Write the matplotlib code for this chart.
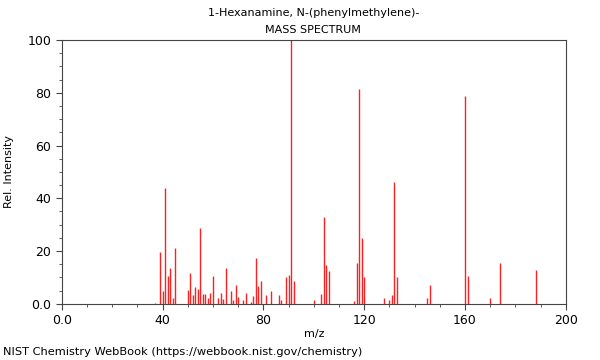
import matplotlib
matplotlib.use("Agg")
import matplotlib.pyplot as plt
from matplotlib.ticker import MultipleLocator, FixedLocator

# m/z and relative intensity
mz = [37, 39, 40, 41, 42, 43, 44, 45, 50, 51, 52, 53, 54, 55, 56, 57, 58, 59, 60,
      62, 63, 64, 65, 67, 68, 69, 70, 72, 73, 75, 76, 77, 78, 79, 81, 83, 86, 87,
      89, 90, 91, 92, 100, 103, 104, 105, 106, 116, 117, 118, 119, 120, 128, 130,
      131, 132, 133, 145, 146, 160, 161, 170, 174, 188]
intensity = [0.5, 19.8, 5.0, 44.0, 10.4, 13.4, 2.4, 21.0, 5.4, 11.7, 3.5, 6.2, 5.6,
             28.9, 3.8, 3.8, 2.3, 4.2, 10.7, 2.3, 4.2, 1.8, 13.4, 5.0, 1.6, 7.3, 2.5,
             1.3, 4.0, 0.8, 2.8, 17.3, 6.6, 8.8, 3.2, 5.0, 3.4, 1.3, 10.0, 11.1, 100.0,
             8.6, 1.3, 3.9, 32.8, 14.8, 12.6, 0.9, 15.4, 81.6, 25.1, 10.0, 2.3, 1.6,
             3.3, 46.3, 10.1, 2.1, 7.3, 78.9, 10.4, 2.1, 15.5, 13.0]

x_ticks = [0, 40, 80, 120, 160, 200]
x_tick_labels = ["0.0", "40", "80", "120", "160", "200"]
y_ticks = [0, 20, 40, 60, 80, 100]
y_tick_labels = ["0.0", "20", "40", "60", "80", "100"]

fig = plt.figure(figsize=(6, 3.6), dpi=100)
ax = fig.add_axes([0.103, 0.156, 0.84, 0.733])

ax.vlines(mz, 0, intensity, colors="#ff2020", linewidth=1.0)

ax.set_xlim(0, 200)
ax.set_ylim(0, 100)
ax.xaxis.set_major_locator(FixedLocator(x_ticks))
ax.set_xticklabels(x_tick_labels)
ax.xaxis.set_minor_locator(MultipleLocator(10))
ax.yaxis.set_major_locator(FixedLocator(y_ticks))
ax.set_yticklabels(y_tick_labels)
ax.yaxis.set_minor_locator(MultipleLocator(5))

for s in ax.spines.values():
    s.set_color("#444444")
    s.set_linewidth(0.8)
ax.tick_params(which="major", length=4, width=0.8, color="#444444", labelsize=9)
ax.tick_params(which="minor", length=2, width=0.6, color="#444444")

ax.set_xlabel("m/z", fontsize=8, labelpad=1)
ax.set_ylabel("Rel. Intensity", fontsize=8, labelpad=10)

fig.text(0.522, 0.963, "1-Hexanamine, N-(phenylmethylene)-", ha="center", va="center", fontsize=8)
fig.text(0.522, 0.916, "MASS SPECTRUM", ha="center", va="center", fontsize=8)
fig.text(0.005, 0.022, "NIST Chemistry WebBook (https://webbook.nist.gov/chemistry)",
         ha="left", va="center", fontsize=8.2)

fig.savefig("out.png", dpi=100)
